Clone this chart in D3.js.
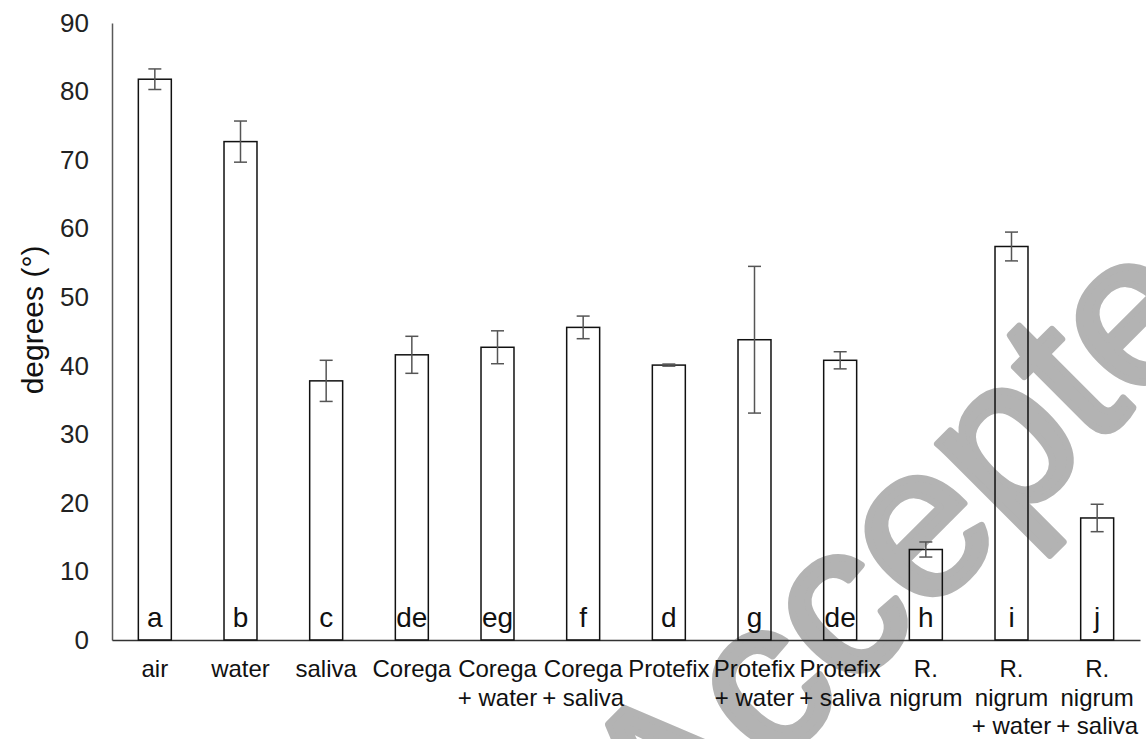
<!DOCTYPE html>
<html>
<head>
<meta charset="utf-8">
<script src="https://cdn.jsdelivr.net/npm/d3@7"></script>
<style>
  html, body { margin: 0; padding: 0; background: #fff; }
  svg { display: block; font-family: "Liberation Sans", Arial, sans-serif; }
</style>
</head>
<body>
<svg id="chart" width="1146" height="739"></svg>
<script>
// ---- data ----
const categories = ["air", "water", "saliva", "Corega", "Corega + water", "Corega + saliva",
  "Protefix", "Protefix + water", "Protefix + saliva", "R. nigrum", "R. nigrum + water", "R. nigrum + saliva"];
const labelLines = [["air"], ["water"], ["saliva"], ["Corega"], ["Corega", "+ water"], ["Corega", "+ saliva"],
  ["Protefix"], ["Protefix", "+ water"], ["Protefix", "+ saliva"], ["R.", "nigrum"], ["R.", "nigrum", "+ water"], ["R.", "nigrum", "+ saliva"]];
const values = [81.8, 72.7, 37.8, 41.6, 42.7, 45.6, 40.1, 43.8, 40.8, 13.2, 57.4, 17.8];
const errors = [1.5, 3.0, 3.0, 2.7, 2.4, 1.65, 0.15, 10.7, 1.25, 1.1, 2.1, 2.0];
const groupLetters = ["a", "b", "c", "de", "eg", "f", "d", "g", "de", "h", "i", "j"];
const yTicks = [0, 10, 20, 30, 40, 50, 60, 70, 80, 90];
const yLabel = "degrees (°)";
const watermark = "Accepted";

// ---- layout ----
const svg = d3.select("#chart");
const x = d3.scaleBand().domain(categories).range([112, 1140]).paddingInner(0.615).paddingOuter(0.3075);
const y = d3.scaleLinear().domain([0, 90]).range([640, 23]);

// watermark (behind chart)
svg.append("text")
  .attr("transform", "translate(670,872) rotate(-45)")
  .attr("font-size", 215)
  .attr("fill", "#b3b3b3")
  .attr("stroke", "#b3b3b3")
  .attr("stroke-width", 7)
  .attr("stroke-linejoin", "round")
  .text(watermark);

// y axis
const yAxis = svg.append("g")
  .attr("transform", `translate(${x.range()[0]},0)`)
  .call(d3.axisLeft(y).tickValues(yTicks).tickSize(0).tickPadding(23));
yAxis.select(".domain").attr("stroke", "#595959").attr("stroke-width", 1.5);
yAxis.selectAll("text").attr("font-size", 26).attr("fill", "#222").attr("font-family", "Liberation Sans, Arial, sans-serif");

// x axis
const xAxis = svg.append("g")
  .attr("transform", `translate(0,${y(0)})`)
  .call(d3.axisBottom(x).tickSize(0).tickFormat(""));
xAxis.select(".domain").attr("stroke", "#333").attr("stroke-width", 1.5);

// bars
svg.append("g").selectAll("rect").data(categories).join("rect")
  .attr("x", d => x(d))
  .attr("y", (d, i) => y(values[i]))
  .attr("width", x.bandwidth())
  .attr("height", (d, i) => y(0) - y(values[i]))
  .attr("fill", "none")
  .attr("stroke", "#111")
  .attr("stroke-width", 1.5);

// error bars
const eg = svg.append("g").attr("stroke", "#555").attr("stroke-width", 1.5);
categories.forEach((c, i) => {
  const cx = x(c) + x.bandwidth() / 2;
  const top = y(values[i] + errors[i]), bot = y(values[i] - errors[i]);
  eg.append("line").attr("x1", cx).attr("x2", cx).attr("y1", top).attr("y2", bot);
  eg.append("line").attr("x1", cx - 6.5).attr("x2", cx + 6.5).attr("y1", top).attr("y2", top);
  eg.append("line").attr("x1", cx - 6.5).attr("x2", cx + 6.5).attr("y1", bot).attr("y2", bot);
});

// group letters
svg.append("g").selectAll("text").data(categories).join("text")
  .attr("x", d => x(d) + x.bandwidth() / 2)
  .attr("y", y(0) - 13)
  .attr("text-anchor", "middle")
  .attr("font-size", 28)
  .attr("fill", "#111")
  .text((d, i) => groupLetters[i]);

// x labels
const xl = svg.append("g");
categories.forEach((c, i) => {
  const t = xl.append("text")
    .attr("x", x(c) + x.bandwidth() / 2)
    .attr("y", 677)
    .attr("text-anchor", "middle")
    .attr("font-size", 24)
    .attr("fill", "#111");
  labelLines[i].forEach((ln, j) => {
    t.append("tspan").attr("x", x(c) + x.bandwidth() / 2).attr("y", 677 + j * 28.5).text(ln);
  });
});

// y label
svg.append("text")
  .attr("transform", "translate(43,320) rotate(-90)")
  .attr("text-anchor", "middle")
  .attr("font-size", 30)
  .attr("fill", "#111")
  .text(yLabel);
</script>
</body>
</html>
